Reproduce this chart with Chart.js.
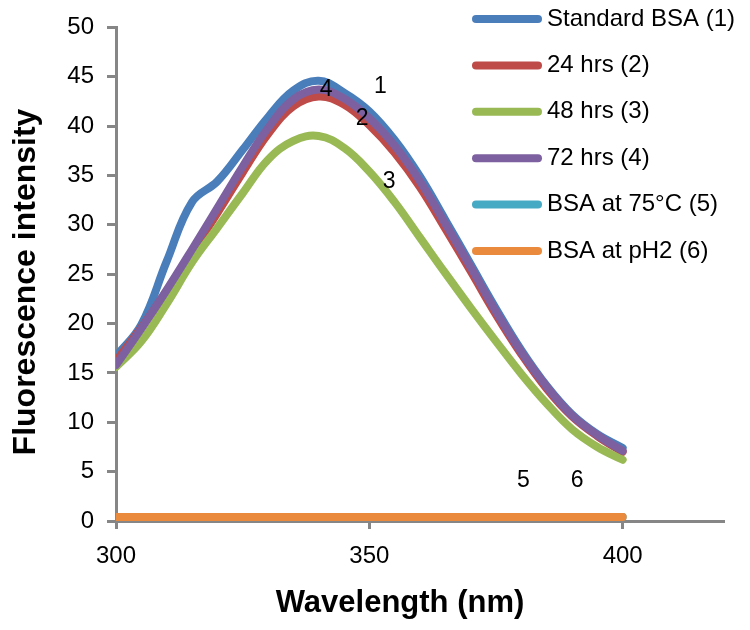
<!DOCTYPE html>
<html lang="en">
<head>
  <meta charset="UTF-8" />
  <title>BSA Fluorescence</title>
  <script src="https://cdn.jsdelivr.net/npm/chart.js"></script>
  <style>
    body { margin: 0; background: #fff; }
    canvas { display: block; }
  </style>
</head>
<body>
  <canvas id="fluoChart" width="750" height="630"></canvas>

  <script>
    // wavelength (nm) for every reading
    const wavelengths = [300, 305, 310, 315, 320, 325, 330, 335, 340, 345, 350,
                         355, 360, 365, 370, 375, 380, 385, 390, 395, 400];

    const standardBSA = [16.7, 19.9, 26.3, 32.3, 34.4, 37.6, 40.9, 43.6, 44.6, 43.4, 41.5,
                         38.6, 34.9, 30.5, 26.0, 21.5, 17.3, 13.7, 10.8, 8.8, 7.4];
    const hrs24 = [16.2, 19.6, 23.3, 27.2, 31.2, 35.3, 39.2, 42.0, 43.0, 42.2, 40.1,
                   37.3, 33.8, 29.6, 25.3, 20.9, 16.9, 13.4, 10.6, 8.6, 7.0];
    const hrs48 = [15.6, 18.2, 22.0, 26.2, 29.7, 33.2, 36.6, 38.5, 39.0, 37.8, 35.4,
                   32.3, 28.7, 25.1, 21.6, 18.2, 14.9, 11.9, 9.3, 7.5, 6.2];
    const hrs72 = [15.8, 19.5, 23.4, 27.5, 31.7, 35.9, 39.8, 42.7, 43.7, 42.8, 40.8,
                   38.0, 34.4, 30.1, 25.7, 21.2, 17.1, 13.6, 10.7, 8.7, 7.1];
    const bsa75C = [0.4, 0.4, 0.4, 0.4, 0.4, 0.4, 0.4, 0.4, 0.4, 0.4, 0.4,
                    0.4, 0.4, 0.4, 0.4, 0.4, 0.4, 0.4, 0.4, 0.4, 0.4];
    const bsaPH2 = [0.4, 0.4, 0.4, 0.4, 0.4, 0.4, 0.4, 0.4, 0.4, 0.4, 0.4,
                    0.4, 0.4, 0.4, 0.4, 0.4, 0.4, 0.4, 0.4, 0.4, 0.4];

    const seriesNames = ['Standard BSA (1)', '24 hrs (2)', '48 hrs (3)', '72 hrs (4)',
                         'BSA at 75°C (5)', 'BSA at pH2 (6)'];
    const seriesColors = ['#4a7ebb', '#be4b48', '#98b954', '#7d60a0', '#46aac5', '#ea8a3d'];
    const seriesValues = [standardBSA, hrs24, hrs48, hrs72, bsa75C, bsaPH2];

    // curve number labels, placed in data units
    const markerTexts = ['1', '2', '3', '4', '5', '6'];
    const markerX = [352.2, 348.6, 353.9, 341.5, 380.4, 391.0];
    const markerY = [44.0, 40.8, 34.4, 43.7, 4.1, 4.1];

    const xTickValues = [300, 350, 400];
    const yTickValues = [0, 5, 10, 15, 20, 25, 30, 35, 40, 45, 50];

    const xTitle = 'Wavelength (nm)';
    const yTitle = 'Fluorescence intensity';

    const FONT = '"Liberation Sans", Arial, sans-serif';
    const AXIS_GRAY = '#868686';

    const datasets = seriesValues.map((vals, i) => ({
      label: seriesNames[i],
      data: vals.map((v, j) => ({ x: wavelengths[j], y: v })),
      borderColor: seriesColors[i],
      backgroundColor: seriesColors[i],
      borderWidth: 8,
      borderCapStyle: 'round',
      borderJoinStyle: 'round',
      pointRadius: 0,
      tension: 0.4,
      fill: false,
      order: seriesValues.length - i   // later series on top, like Excel
    }));

    const markerPlugin = {
      id: 'curveMarkers',
      afterDatasetsDraw(chart) {
        const { ctx, scales } = chart;
        ctx.save();
        ctx.font = '23px ' + FONT;
        ctx.fillStyle = '#000';
        ctx.textAlign = 'center';
        ctx.textBaseline = 'middle';
        markerTexts.forEach((t, i) => {
          ctx.fillText(t, scales.x.getPixelForValue(markerX[i]), scales.y.getPixelForValue(markerY[i]));
        });
        ctx.restore();
      }
    };

    // legend sits inside the plot, top right; axis titles drawn here too
    const legendPlugin = {
      id: 'sideLegend',
      afterDraw(chart) {
        const ctx = chart.ctx;
        ctx.save();
        ctx.font = '24px ' + FONT;
        ctx.textBaseline = 'middle';
        ctx.lineCap = 'round';
        ctx.lineWidth = 8;
        seriesNames.forEach((name, i) => {
          const y = 19 + i * 46.4;
          ctx.strokeStyle = seriesColors[i];
          ctx.beginPath();
          ctx.moveTo(476, y);
          ctx.lineTo(538, y);
          ctx.stroke();
          ctx.fillStyle = '#000';
          ctx.fillText(name, 547, y);
        });

        ctx.font = 'bold 31px ' + FONT;
        ctx.textAlign = 'center';
        ctx.fillText(xTitle, 400, 603);
        ctx.translate(26, 282);
        ctx.rotate(-Math.PI / 2);
        ctx.font = 'bold 32px ' + FONT;
        ctx.fillText(yTitle, 0, 0);
        ctx.restore();
      }
    };

    new Chart(document.getElementById('fluoChart'), {
      type: 'line',
      data: { datasets },
      plugins: [markerPlugin, legendPlugin],
      options: {
        responsive: false,
        animation: false,
        layout: { padding: { top: 20, right: 26, left: 0, bottom: 0 } },
        plugins: {
          legend: { display: false },
          tooltip: { enabled: false }
        },
        scales: {
          x: {
            type: 'linear',
            min: 300,
            max: 420,
            afterBuildTicks: s => { s.ticks = xTickValues.map(v => ({ value: v })); },
            afterFit: s => { s.height = 109; },
            grid: { drawOnChartArea: false, drawTicks: true, tickLength: 8, tickWidth: 3, tickColor: AXIS_GRAY },
            border: { display: true, color: AXIS_GRAY, width: 3 },
            ticks: { color: '#000', font: { family: FONT, size: 24 }, padding: 13, maxRotation: 0 }
          },
          y: {
            min: 0,
            max: 50,
            afterBuildTicks: s => { s.ticks = yTickValues.map(v => ({ value: v })); },
            afterFit: s => { s.width = 116; },
            grid: { drawOnChartArea: false, drawTicks: true, tickLength: 9, tickWidth: 3, tickColor: AXIS_GRAY },
            border: { display: true, color: AXIS_GRAY, width: 3 },
            ticks: { color: '#000', font: { family: FONT, size: 24 }, padding: 13 }
          }
        }
      }
    });
  </script>
</body>
</html>
